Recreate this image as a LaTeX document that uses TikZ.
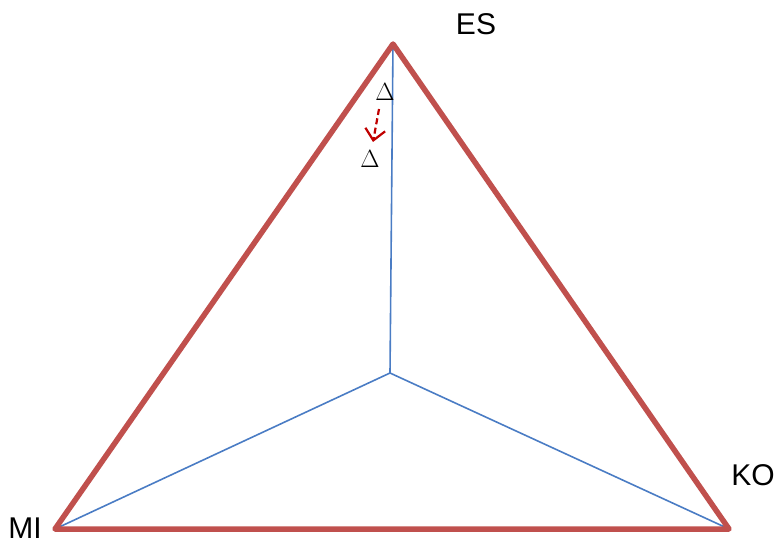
\documentclass[tikz,border=0pt]{standalone}
\usepackage{fontspec}
\setmainfont{Liberation Sans}
\usetikzlibrary{arrows.meta}
\definecolor{tri}{HTML}{C0504D}
\definecolor{spoke}{HTML}{4A7CC4}
\definecolor{darr}{HTML}{C00000}
\begin{document}
\begin{tikzpicture}[x=1pt,y=-1pt,
  corner/.style={font=\fontsize{30}{32}\selectfont, inner sep=0pt},
  dlt/.style={font=\fontsize{31}{33}\selectfont, inner sep=0pt},
  side/.style={draw=tri, line width=5.5pt, line join=round, line cap=round},
  spk/.style={draw=spoke, line width=1.6pt}]
\useasboundingbox (0,0) rectangle (779,548);
\coordinate (ES) at (393,44);
\coordinate (MI) at (55,529);
\coordinate (KO) at (729,529);
\coordinate (C) at (390,373);
\draw[spk] (C) -- (ES);
\draw[spk] (C) -- (MI);
\draw[spk] (C) -- (KO);
\draw[side] (ES) -- (KO) -- (MI) -- cycle;
\node[dlt] (d1) at (385,92) {$\Delta$};
\node[dlt] (d2) at (370,159) {$\Delta$};
\node[corner] (les) at (476,24) {ES};
\node[corner] (lmi) at (25,528) {MI};
\node[corner] (lko) at (753,475) {KO};
\coordinate (a1) at (379,109);
\coordinate (a2) at (373,142);
\draw[darr, line width=2.2pt, dash pattern=on 6pt off 3.5pt, -{Straight Barb[length=11pt,width=20pt]}] (a1) -- (a2);
\end{tikzpicture}
\end{document}
